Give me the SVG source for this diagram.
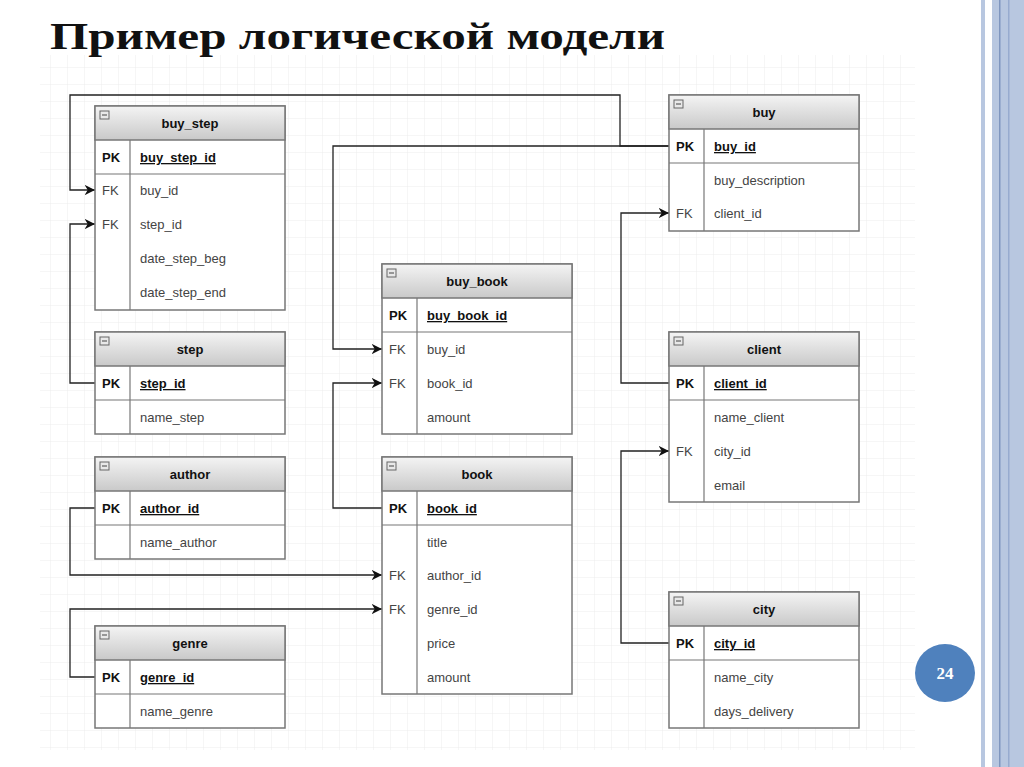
<svg xmlns="http://www.w3.org/2000/svg" width="1024" height="767" viewBox="0 0 1024 767">
<defs>
<pattern id="g" width="17" height="17" patternUnits="userSpaceOnUse"><path d="M17 0V17H0" fill="none" stroke="#ececec" stroke-width="1"/></pattern>
<linearGradient id="h" x1="0" y1="0" x2="0" y2="1"><stop offset="0" stop-color="#f4f4f4"/><stop offset="1" stop-color="#c9c9c9"/></linearGradient>
<marker id="a" viewBox="0 0 10 10" refX="10" refY="5" markerWidth="8" markerHeight="8" orient="auto"><path d="M0 0L10 5L0 10L3 5Z" fill="#111"/></marker>
<g id="ico"><rect class="ic" x="0" y="0" width="9" height="8"/><line x1="2" y1="4" x2="7" y2="4" stroke="#444" stroke-width="1"/></g>
</defs>
<style>
.t{font-family:"Liberation Sans",Arial,sans-serif;font-size:13px;fill:#444}
.b{font-weight:bold;fill:#111}
.u{text-decoration:underline}
.box{fill:#fff;stroke:#777;stroke-width:1.5}
.hd{fill:url(#h);stroke:#777;stroke-width:1.5}
.ln{stroke:#777;stroke-width:1.2}
.c{fill:none;stroke:#222;stroke-width:1.3;marker-end:url(#a)}
.ic{fill:#e8e8e8;stroke:#666;stroke-width:1}
</style>
<rect width="1024" height="767" fill="#fff"/>
<rect x="40" y="55" width="875" height="695" fill="url(#g)"/>
<rect x="981" y="0" width="4" height="767" fill="#b8c7e0"/>
<rect x="992" y="0" width="32" height="767" fill="#b8c7e0"/>
<rect x="999" y="0" width="1.5" height="767" fill="#7f96bf"/>
<rect x="1008" y="0" width="1.5" height="767" fill="#97abcf"/>
<text x="50" y="49" font-family="Liberation Serif,serif" font-size="38" font-weight="bold" fill="#111" textLength="615" lengthAdjust="spacingAndGlyphs">Пример логической модели</text>
<g id="connectors">
<path class="c" d="M669 146H620V95H70V190H95"/>
<path class="c" d="M669 146H333V349H382"/>
<path class="c" d="M95 383H70V224H95"/>
<path class="c" d="M669 383H621V213H669"/>
<path class="c" d="M382 508H333V383H382"/>
<path class="c" d="M95 508H70V575H382"/>
<path class="c" d="M95 677H70V609H382"/>
<path class="c" d="M669 643H621V451H669"/>
</g>
<g id="buy_step">
<rect class="box" x="95" y="106" width="190" height="204"/><rect class="hd" x="95" y="106" width="190" height="34"/>
<use href="#ico" x="100" y="111"/>
<text class="t b" x="190" y="128" text-anchor="middle">buy_step</text>
<line class="ln" x1="130" y1="140" x2="130" y2="310"/><line class="ln" x1="95" y1="174" x2="285" y2="174"/>
<text class="t b" x="102" y="162">PK</text><text class="t b u" x="140" y="162">buy_step_id</text>
<text class="t" x="102" y="195">FK</text><text class="t" x="140" y="195">buy_id</text>
<text class="t" x="102" y="229">FK</text><text class="t" x="140" y="229">step_id</text>
<text class="t" x="140" y="263">date_step_beg</text>
<text class="t" x="140" y="297">date_step_end</text>
</g>
<g id="step">
<rect class="box" x="95" y="332" width="190" height="102"/><rect class="hd" x="95" y="332" width="190" height="34"/>
<use href="#ico" x="100" y="337"/>
<text class="t b" x="190" y="354" text-anchor="middle">step</text>
<line class="ln" x1="130" y1="366" x2="130" y2="434"/><line class="ln" x1="95" y1="400" x2="285" y2="400"/>
<text class="t b" x="102" y="388">PK</text><text class="t b u" x="140" y="388">step_id</text>
<text class="t" x="140" y="422">name_step</text>
</g>
<g id="author">
<rect class="box" x="95" y="457" width="190" height="102"/><rect class="hd" x="95" y="457" width="190" height="34"/>
<use href="#ico" x="100" y="462"/>
<text class="t b" x="190" y="479" text-anchor="middle">author</text>
<line class="ln" x1="130" y1="491" x2="130" y2="559"/><line class="ln" x1="95" y1="525" x2="285" y2="525"/>
<text class="t b" x="102" y="513">PK</text><text class="t b u" x="140" y="513">author_id</text>
<text class="t" x="140" y="547">name_author</text>
</g>
<g id="genre">
<rect class="box" x="95" y="626" width="190" height="102"/><rect class="hd" x="95" y="626" width="190" height="34"/>
<use href="#ico" x="100" y="631"/>
<text class="t b" x="190" y="648" text-anchor="middle">genre</text>
<line class="ln" x1="130" y1="660" x2="130" y2="728"/><line class="ln" x1="95" y1="694" x2="285" y2="694"/>
<text class="t b" x="102" y="682">PK</text><text class="t b u" x="140" y="682">genre_id</text>
<text class="t" x="140" y="716">name_genre</text>
</g>
<g id="buy_book">
<rect class="box" x="382" y="264" width="190" height="170"/><rect class="hd" x="382" y="264" width="190" height="34"/>
<use href="#ico" x="387" y="269"/>
<text class="t b" x="477" y="286" text-anchor="middle">buy_book</text>
<line class="ln" x1="417" y1="298" x2="417" y2="434"/><line class="ln" x1="382" y1="332" x2="572" y2="332"/>
<text class="t b" x="389" y="320">PK</text><text class="t b u" x="427" y="320">buy_book_id</text>
<text class="t" x="389" y="354">FK</text><text class="t" x="427" y="354">buy_id</text>
<text class="t" x="389" y="388">FK</text><text class="t" x="427" y="388">book_id</text>
<text class="t" x="427" y="422">amount</text>
</g>
<g id="book">
<rect class="box" x="382" y="457" width="190" height="237"/><rect class="hd" x="382" y="457" width="190" height="34"/>
<use href="#ico" x="387" y="462"/>
<text class="t b" x="477" y="479" text-anchor="middle">book</text>
<line class="ln" x1="417" y1="491" x2="417" y2="694"/><line class="ln" x1="382" y1="525" x2="572" y2="525"/>
<text class="t b" x="389" y="513">PK</text><text class="t b u" x="427" y="513">book_id</text>
<text class="t" x="427" y="547">title</text>
<text class="t" x="389" y="580">FK</text><text class="t" x="427" y="580">author_id</text>
<text class="t" x="389" y="614">FK</text><text class="t" x="427" y="614">genre_id</text>
<text class="t" x="427" y="648">price</text>
<text class="t" x="427" y="682">amount</text>
</g>
<g id="buy">
<rect class="box" x="669" y="95" width="190" height="136"/><rect class="hd" x="669" y="95" width="190" height="34"/>
<use href="#ico" x="674" y="100"/>
<text class="t b" x="764" y="117" text-anchor="middle">buy</text>
<line class="ln" x1="704" y1="129" x2="704" y2="231"/><line class="ln" x1="669" y1="163" x2="859" y2="163"/>
<text class="t b" x="676" y="151">PK</text><text class="t b u" x="714" y="151">buy_id</text>
<text class="t" x="714" y="185">buy_description</text>
<text class="t" x="676" y="218">FK</text><text class="t" x="714" y="218">client_id</text>
</g>
<g id="client">
<rect class="box" x="669" y="332" width="190" height="170"/><rect class="hd" x="669" y="332" width="190" height="34"/>
<use href="#ico" x="674" y="337"/>
<text class="t b" x="764" y="354" text-anchor="middle">client</text>
<line class="ln" x1="704" y1="366" x2="704" y2="502"/><line class="ln" x1="669" y1="400" x2="859" y2="400"/>
<text class="t b" x="676" y="388">PK</text><text class="t b u" x="714" y="388">client_id</text>
<text class="t" x="714" y="422">name_client</text>
<text class="t" x="676" y="456">FK</text><text class="t" x="714" y="456">city_id</text>
<text class="t" x="714" y="490">email</text>
</g>
<g id="city">
<rect class="box" x="669" y="592" width="190" height="136"/><rect class="hd" x="669" y="592" width="190" height="34"/>
<use href="#ico" x="674" y="597"/>
<text class="t b" x="764" y="614" text-anchor="middle">city</text>
<line class="ln" x1="704" y1="626" x2="704" y2="728"/><line class="ln" x1="669" y1="660" x2="859" y2="660"/>
<text class="t b" x="676" y="648">PK</text><text class="t b u" x="714" y="648">city_id</text>
<text class="t" x="714" y="682">name_city</text>
<text class="t" x="714" y="716">days_delivery</text>
</g>
<g id="page">
<ellipse cx="945" cy="673" rx="30" ry="29" fill="#4f81bd"/>
<text x="945" y="679" text-anchor="middle" font-family="Liberation Serif,serif" font-size="17" font-weight="bold" fill="#fff">24</text>
</g>
</svg>
